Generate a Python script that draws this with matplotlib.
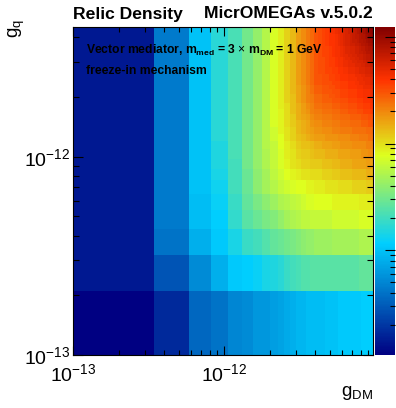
import numpy as np
import matplotlib
matplotlib.use("Agg")
import matplotlib.pyplot as plt
from matplotlib.colors import LinearSegmentedColormap, LogNorm
from matplotlib.ticker import FixedLocator, NullFormatter, LogFormatterMathtext

plt.rcParams['font.family'] = ['Liberation Sans', 'DejaVu Sans']
plt.rcParams['mathtext.fontset'] = 'custom'
plt.rcParams['mathtext.rm'] = 'Liberation Sans'
plt.rcParams['mathtext.it'] = 'Liberation Sans:italic'
plt.rcParams['mathtext.bf'] = 'Liberation Sans:bold'

# scan grid (40 x 40 linear bins)
g_dm_min, g_dm_max = 1e-13, 9.7e-12
g_q_min, g_q_max = 1e-13, 4.5e-12
n_bins = 40

# relic density of each cell, as position on the log colour axis (percent)
# one row per g_q bin, from the lowest g_q up; columns = g_DM bins
omega_level = [
    [0, 7, 17, 19, 22, 23, 25, 25, 26, 27, 28, 29, 30, 30, 31, 31, 31, 31, 31, 32, 32, 32, 32, 33, 33, 33, 33, 33, 33, 33, 33, 33, 33, 34, 34, 34, 34, 34, 34, 34],
    [4, 14, 23, 29, 33, 34, 35, 37, 38, 39, 41, 42, 43, 44, 44, 45, 45, 45, 45, 45, 45, 45, 45, 45, 45, 45, 45, 45, 45, 45, 45, 45, 46, 46, 46, 46, 46, 46, 46, 46],
    [4, 19, 29, 33, 37, 41, 42, 44, 46, 47, 48, 49, 50, 51, 52, 52, 53, 53, 53, 53, 53, 54, 54, 54, 54, 54, 54, 54, 54, 54, 54, 54, 55, 55, 55, 55, 55, 55, 55, 55],
    [4, 20, 31, 34, 40, 45, 47, 49, 50, 52, 54, 55, 56, 57, 57, 58, 58, 58, 58, 58, 58, 59, 59, 59, 59, 59, 59, 59, 59, 59, 59, 59, 60, 60, 60, 60, 60, 60, 60, 60],
    [4, 20, 31, 35, 41, 46, 49, 51, 53, 55, 56, 57, 58, 59, 60, 60, 61, 61, 61, 61, 61, 62, 62, 62, 62, 62, 62, 62, 62, 62, 62, 62, 63, 63, 63, 63, 63, 63, 63, 63],
    [4, 20, 32, 36, 42, 47, 51, 54, 56, 58, 59, 60, 61, 61, 62, 62, 63, 63, 63, 64, 64, 64, 64, 65, 65, 65, 65, 65, 65, 66, 66, 66, 66, 66, 66, 66, 67, 67, 67, 67],
    [4, 20, 32, 37, 42, 47, 51, 54, 57, 59, 61, 62, 63, 64, 64, 65, 65, 65, 66, 66, 66, 67, 67, 67, 68, 68, 68, 68, 68, 69, 69, 69, 69, 69, 69, 69, 70, 70, 70, 70],
    [4, 20, 32, 38, 42, 48, 52, 55, 58, 60, 62, 64, 65, 66, 66, 67, 67, 67, 68, 68, 68, 69, 69, 69, 70, 70, 70, 70, 70, 71, 71, 71, 71, 71, 71, 71, 72, 72, 72, 72],
    [4, 20, 32, 38, 43, 48, 52, 55, 58, 60, 63, 64, 66, 67, 67, 68, 69, 69, 69, 70, 70, 70, 70, 71, 71, 71, 71, 71, 72, 72, 72, 72, 72, 73, 73, 73, 73, 74, 74, 74],
    [4, 20, 32, 38, 43, 48, 52, 56, 58, 61, 63, 65, 67, 68, 68, 69, 70, 70, 71, 71, 71, 72, 72, 72, 73, 73, 73, 73, 73, 74, 74, 74, 74, 74, 74, 74, 75, 75, 75, 75],
    [4, 20, 32, 39, 43, 48, 52, 56, 59, 61, 64, 66, 68, 69, 70, 71, 72, 72, 72, 73, 73, 73, 73, 74, 74, 74, 74, 74, 75, 75, 75, 75, 76, 76, 76, 76, 76, 77, 77, 77],
    [4, 20, 32, 39, 43, 48, 52, 56, 59, 62, 64, 66, 69, 70, 71, 72, 73, 73, 74, 74, 74, 75, 75, 75, 76, 76, 76, 76, 76, 77, 77, 77, 77, 77, 77, 77, 78, 78, 78, 78],
    [4, 20, 32, 39, 43, 48, 52, 56, 60, 62, 65, 67, 69, 70, 71, 73, 74, 74, 75, 75, 75, 76, 76, 76, 77, 77, 77, 77, 78, 78, 78, 78, 78, 79, 79, 79, 79, 80, 80, 80],
    [4, 20, 32, 39, 43, 48, 52, 56, 60, 62, 65, 67, 70, 71, 72, 74, 75, 75, 76, 76, 76, 77, 77, 77, 78, 78, 78, 78, 79, 79, 79, 79, 79, 80, 80, 80, 80, 81, 81, 81],
    [4, 20, 32, 39, 43, 48, 52, 56, 60, 62, 65, 68, 70, 72, 73, 75, 76, 76, 77, 77, 77, 78, 78, 78, 79, 79, 79, 80, 80, 80, 80, 81, 81, 81, 82, 82, 82, 82, 83, 83],
    [4, 20, 32, 39, 43, 48, 52, 56, 60, 63, 65, 68, 70, 72, 74, 75, 77, 77, 78, 78, 78, 79, 79, 79, 80, 80, 80, 81, 81, 81, 81, 82, 82, 82, 83, 83, 83, 83, 84, 84],
    [4, 20, 32, 39, 43, 48, 52, 56, 60, 63, 66, 68, 71, 73, 75, 76, 78, 78, 79, 79, 79, 80, 80, 80, 81, 81, 81, 82, 82, 82, 82, 83, 83, 83, 84, 84, 84, 84, 85, 85],
    [4, 20, 32, 39, 43, 48, 52, 56, 60, 63, 66, 68, 71, 73, 75, 76, 78, 78, 79, 79, 80, 80, 81, 81, 82, 82, 82, 83, 83, 83, 83, 84, 84, 84, 85, 85, 85, 85, 86, 86],
    [4, 20, 32, 39, 43, 48, 52, 56, 60, 63, 66, 69, 71, 73, 75, 77, 79, 79, 80, 80, 80, 81, 81, 81, 82, 82, 82, 83, 83, 83, 83, 84, 84, 84, 85, 85, 85, 85, 86, 86],
    [4, 20, 32, 39, 43, 48, 52, 56, 60, 63, 66, 69, 71, 73, 75, 77, 79, 79, 80, 80, 81, 81, 82, 82, 83, 83, 83, 84, 84, 84, 84, 85, 85, 85, 86, 86, 86, 86, 87, 87],
    [4, 20, 32, 39, 43, 48, 52, 56, 60, 63, 66, 69, 72, 74, 76, 78, 80, 80, 81, 81, 81, 82, 82, 82, 83, 83, 83, 84, 84, 84, 85, 85, 86, 86, 86, 87, 87, 87, 88, 88],
    [4, 20, 32, 39, 43, 48, 52, 56, 60, 63, 66, 69, 72, 74, 76, 78, 80, 80, 81, 81, 82, 82, 83, 83, 84, 84, 84, 85, 85, 85, 85, 86, 86, 86, 87, 87, 87, 87, 88, 88],
    [4, 20, 32, 39, 43, 48, 52, 56, 60, 63, 66, 69, 72, 74, 76, 78, 80, 80, 81, 81, 82, 82, 83, 83, 84, 84, 84, 85, 85, 85, 86, 86, 86, 87, 87, 88, 88, 88, 89, 89],
    [4, 20, 32, 39, 43, 48, 52, 56, 60, 63, 66, 69, 72, 74, 76, 78, 80, 81, 81, 82, 82, 83, 83, 84, 84, 85, 85, 86, 86, 86, 87, 87, 88, 88, 88, 89, 89, 89, 90, 90],
    [4, 20, 32, 39, 43, 48, 52, 56, 60, 63, 66, 69, 72, 74, 76, 78, 80, 81, 81, 82, 82, 83, 83, 84, 84, 85, 85, 86, 86, 86, 87, 87, 88, 88, 88, 89, 89, 89, 90, 90],
    [4, 20, 32, 39, 43, 48, 52, 56, 60, 63, 66, 69, 72, 74, 76, 78, 80, 81, 81, 82, 83, 83, 84, 85, 85, 86, 86, 87, 87, 87, 88, 88, 88, 89, 89, 90, 90, 90, 91, 91],
    [4, 20, 32, 39, 43, 48, 52, 56, 60, 63, 66, 69, 72, 74, 76, 78, 80, 81, 81, 82, 83, 83, 84, 85, 85, 86, 86, 87, 87, 88, 88, 89, 89, 89, 90, 90, 91, 91, 92, 92],
    [4, 20, 32, 39, 43, 48, 52, 56, 60, 63, 66, 69, 72, 74, 76, 78, 80, 81, 81, 82, 83, 83, 84, 85, 85, 86, 87, 87, 88, 88, 89, 89, 90, 90, 91, 91, 92, 92, 93, 93],
    [4, 20, 32, 39, 43, 48, 52, 56, 60, 63, 66, 69, 72, 74, 76, 78, 80, 81, 82, 82, 83, 84, 85, 85, 86, 87, 87, 88, 88, 89, 89, 90, 90, 90, 91, 91, 92, 92, 93, 93],
    [4, 20, 32, 39, 43, 48, 52, 56, 60, 63, 66, 69, 72, 74, 76, 78, 80, 81, 82, 82, 83, 84, 85, 85, 86, 87, 88, 88, 89, 89, 90, 90, 91, 91, 92, 92, 93, 93, 94, 94],
    [4, 20, 32, 39, 43, 48, 52, 56, 60, 63, 66, 69, 72, 74, 76, 78, 80, 81, 82, 82, 83, 84, 85, 85, 86, 87, 88, 88, 89, 89, 90, 90, 91, 92, 92, 93, 93, 94, 94, 95],
    [4, 20, 32, 39, 43, 48, 52, 56, 60, 63, 66, 69, 72, 74, 76, 78, 80, 81, 82, 82, 83, 84, 85, 85, 86, 87, 88, 88, 89, 89, 90, 90, 91, 92, 92, 93, 93, 94, 94, 95],
    [4, 20, 32, 39, 43, 48, 52, 56, 60, 63, 66, 69, 72, 74, 76, 78, 80, 81, 82, 83, 84, 84, 85, 86, 87, 88, 89, 89, 90, 90, 91, 91, 92, 93, 93, 94, 94, 95, 95, 96],
    [4, 20, 32, 39, 43, 48, 52, 56, 60, 63, 66, 69, 72, 74, 76, 78, 80, 81, 82, 83, 84, 84, 85, 86, 87, 88, 89, 89, 90, 91, 91, 92, 93, 93, 94, 94, 95, 96, 96, 97],
    [4, 20, 32, 39, 43, 48, 52, 56, 60, 63, 66, 69, 72, 74, 76, 78, 80, 81, 82, 83, 84, 84, 85, 86, 87, 88, 89, 89, 90, 91, 91, 92, 93, 93, 94, 94, 95, 96, 96, 97],
    [4, 20, 32, 39, 43, 48, 52, 56, 60, 63, 66, 69, 72, 74, 76, 78, 80, 81, 82, 83, 84, 84, 85, 86, 87, 88, 89, 89, 90, 91, 92, 92, 93, 94, 94, 95, 96, 97, 97, 98],
    [4, 20, 32, 39, 43, 48, 52, 56, 60, 63, 66, 69, 72, 74, 76, 78, 80, 81, 82, 83, 84, 84, 85, 86, 87, 88, 89, 89, 90, 91, 92, 92, 93, 94, 94, 95, 96, 97, 97, 98],
    [4, 20, 32, 39, 43, 48, 52, 56, 60, 63, 66, 69, 72, 74, 76, 78, 80, 81, 82, 83, 84, 85, 86, 87, 87, 88, 89, 90, 90, 91, 92, 93, 94, 94, 95, 96, 97, 97, 98, 99],
    [4, 20, 32, 39, 43, 48, 52, 56, 60, 63, 66, 69, 72, 74, 76, 78, 80, 81, 82, 83, 84, 85, 86, 87, 87, 88, 89, 90, 90, 91, 92, 93, 94, 94, 95, 96, 97, 97, 98, 99],
    [4, 20, 32, 39, 43, 48, 52, 56, 60, 63, 66, 69, 72, 74, 76, 78, 80, 81, 82, 83, 84, 85, 86, 87, 87, 88, 89, 90, 90, 91, 92, 93, 93, 94, 95, 96, 97, 98, 99, 100],
]

# colour axis range (log), about 3 decades
omega_min = 1.045e-3
omega_decades = 3.07
omega_max = omega_min * 10 ** omega_decades

# tick positions
major_g = [1e-13, 1e-12]
minor_g = [k * 1e-13 for k in range(2, 10)] + [k * 1e-12 for k in range(2, 10)]
major_omega = [1e-2, 1e-1, 1.0]
minor_omega = ([k * 1e-3 for k in range(2, 10)] + [k * 1e-2 for k in range(2, 10)]
               + [k * 1e-1 for k in range(2, 10)])

# ROOT style rainbow palette
stops = [0.00, 0.34, 0.61, 0.84, 1.00]
red = [0.00, 0.00, 0.87, 1.00, 0.51]
green = [0.00, 0.81, 1.00, 0.20, 0.00]
blue = [0.51, 1.00, 0.12, 0.00, 0.00]
palette = LinearSegmentedColormap.from_list(
    'root_rainbow', list(zip(stops, zip(red, green, blue))), N=255)

W, H = 396, 408
fig = plt.figure(figsize=(W / 100, H / 100), dpi=100)
ax = fig.add_axes([73.3 / W, 53 / H, 300 / W, 327.7 / H])

g_dm_edges = np.linspace(g_dm_min, g_dm_max, n_bins + 1)
g_q_edges = np.linspace(g_q_min, g_q_max, n_bins + 1)
omega = omega_min * 10 ** (omega_decades * np.array(omega_level) / 100.0)

mesh = ax.pcolormesh(g_dm_edges, g_q_edges, omega, cmap=palette,
                     norm=LogNorm(omega_min, omega_max), shading='flat',
                     edgecolors='none', antialiased=False)
ax.set_xscale('log')
ax.set_yscale('log')
ax.set_xlim(g_dm_min, g_dm_max)
ax.set_ylim(g_q_min, g_q_max)

for axis in (ax.xaxis, ax.yaxis):
    axis.set_major_locator(FixedLocator(major_g))
    axis.set_minor_locator(FixedLocator(minor_g))
    axis.set_major_formatter(LogFormatterMathtext())
    axis.set_minor_formatter(NullFormatter())

ax.tick_params(which='both', direction='in', top=True, right=True,
               width=0.8, labelsize=14, colors='black')
ax.tick_params(axis='x', which='major', length=6.5, pad=6)
ax.tick_params(axis='x', which='minor', length=3.6)
ax.tick_params(axis='y', which='major', length=7.2, pad=2)
ax.tick_params(axis='y', which='minor', length=4.3)
for sp in ax.spines.values():
    sp.set_linewidth(0.8)

# palette
cax = fig.add_axes([375 / W, 53 / H, 20 / W, 327.7 / H])
cb = fig.colorbar(mesh, cax=cax)
cb.outline.set_visible(False)
cax.yaxis.set_major_locator(FixedLocator(major_omega))
cax.yaxis.set_minor_locator(FixedLocator(minor_omega))
cax.yaxis.set_major_formatter(NullFormatter())
cax.yaxis.set_minor_formatter(NullFormatter())
cax.tick_params(which='both', direction='in', right=True, left=False,
                labelright=False, labelleft=False, width=0.8, colors='black')
cax.tick_params(which='major', length=7.2)
cax.tick_params(which='minor', length=3.6)

# titles and labels
fig.text(73 / W, 1 - 18.5 / H, 'Relic Density', fontsize=12.6, fontweight='bold',
         ha='left', va='baseline')
fig.text(372.5 / W, 1 - 18.5 / H, 'MicrOMEGAs v.5.0.2', fontsize=12.6,
         fontweight='bold', ha='right', va='baseline')
fig.text(86.5 / W, 1 - 53.5 / H,
         r'Vector mediator, m$_{\mathbf{med}}$ = 3 $\times$ m$_{\mathbf{DM}}$ = 1 GeV',
         fontsize=8.7, fontweight='bold', ha='left', va='baseline')
fig.text(86.5 / W, 1 - 74.3 / H, 'freeze-in mechanism', fontsize=8.7,
         fontweight='bold', ha='left', va='baseline')
fig.text(373 / W, 1 - 396 / H, r'g$_{\mathrm{DM}}$', fontsize=13.5,
         ha='right', va='baseline')
fig.text(17 / W, 1 - 19 / H, r'g$_{\mathrm{q}}$', fontsize=13.5,
         rotation=90, ha='center', va='top')

fig.savefig('out.png', dpi=100)
